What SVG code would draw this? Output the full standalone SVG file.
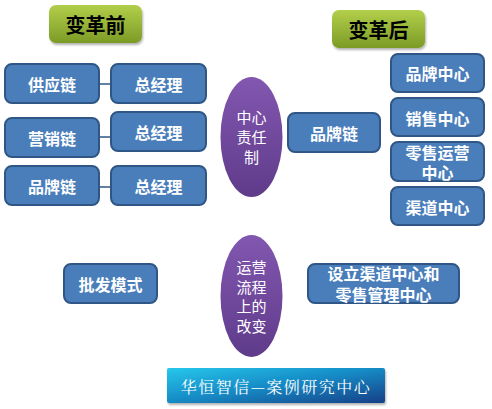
<svg xmlns="http://www.w3.org/2000/svg" width="492" height="409" viewBox="0 0 492 409">
<defs>
<linearGradient id="gGreen" x1="0" y1="0" x2="0" y2="1">
<stop offset="0" stop-color="#b2cf4a"/>
<stop offset="1" stop-color="#7c9b26"/>
</linearGradient>
<linearGradient id="gPurple" x1="0" y1="0" x2="0" y2="1">
<stop offset="0" stop-color="#8257b0"/>
<stop offset="1" stop-color="#5f3b8a"/>
</linearGradient>
<linearGradient id="gBanner" x1="0" y1="0" x2="1" y2="1">
<stop offset="0" stop-color="#27c7ec"/>
<stop offset="0.5" stop-color="#1589c4"/>
<stop offset="1" stop-color="#163f86"/>
</linearGradient>
<filter id="sh" x="-10%" y="-10%" width="130%" height="140%">
<feDropShadow dx="1" dy="2" stdDeviation="1.2" flood-color="#000" flood-opacity="0.3"/>
</filter>
</defs>
<style>
.box{fill:#4a7ebb;stroke:#2f5684;stroke-width:2;}
.t{font-family:"Microsoft YaHei","Noto Sans CJK SC",sans-serif;font-weight:bold;fill:#fff;font-size:16px;text-anchor:middle;dominant-baseline:central;}
.tk{font-family:"Noto Sans CJK SC",sans-serif;font-weight:bold;fill:#000;font-size:20px;text-anchor:middle;dominant-baseline:central;}
.te{font-family:"Noto Sans CJK SC",sans-serif;fill:#fff;font-size:15px;text-anchor:middle;dominant-baseline:central;}
.ln{stroke:#2f5684;stroke-width:1.5;fill:none;}
</style>
<rect width="492" height="409" fill="#fff"/>
<g id="connectors">
<line class="ln" x1="99" y1="84" x2="111" y2="84"/>
<line class="ln" x1="99" y1="137" x2="111" y2="137"/>
<line class="ln" x1="99" y1="187" x2="111" y2="187"/>
</g>
<g id="before"><rect x="49" y="5" width="93" height="38" rx="7" fill="url(#gGreen)" filter="url(#sh)"/><text class="tk" x="95.5" y="24">变革前</text></g>
<g id="after"><rect x="332" y="10" width="93" height="38" rx="7" fill="url(#gGreen)" filter="url(#sh)"/><text class="tk" x="378.5" y="29">变革后</text></g>
<g id="supply"><rect class="box" x="5" y="64" width="94" height="39" rx="7"/><text class="t" x="52" y="84">供应链</text></g>
<g id="gm1"><rect class="box" x="111" y="64" width="95" height="39" rx="7"/><text class="t" x="158.5" y="84">总经理</text></g>
<g id="marketing"><rect class="box" x="5" y="118" width="94" height="39" rx="7"/><text class="t" x="52" y="138">营销链</text></g>
<g id="gm2"><rect class="box" x="111" y="112" width="95" height="39" rx="7"/><text class="t" x="158.5" y="132">总经理</text></g>
<g id="brand1"><rect class="box" x="5" y="166" width="94" height="39" rx="7"/><text class="t" x="52" y="186">品牌链</text></g>
<g id="gm3"><rect class="box" x="111" y="166" width="95" height="39" rx="7"/><text class="t" x="158.5" y="186">总经理</text></g>
<g id="center1"><ellipse cx="251.5" cy="137" rx="31" ry="60" fill="url(#gPurple)"/><text class="te" x="251.5" y="116">中心</text><text class="te" x="251.5" y="136">责任</text><text class="te" x="251.5" y="156">制</text></g>
<g id="brand2"><rect class="box" x="288" y="113" width="92" height="39" rx="7"/><text class="t" x="334" y="133">品牌链</text></g>
<g id="bc"><rect class="box" x="391" y="54" width="93" height="38" rx="7"/><text class="t" x="437.5" y="73">品牌中心</text></g>
<g id="sc"><rect class="box" x="391" y="98" width="93" height="38" rx="7"/><text class="t" x="437.5" y="118">销售中心</text></g>
<g id="rc"><rect class="box" x="391" y="142" width="93" height="39" rx="7"/><text class="t" x="437.5" y="152" font-size="14">零售运营</text><text class="t" x="437.5" y="172" font-size="14">中心</text></g>
<g id="cc"><rect class="box" x="391" y="187" width="93" height="38" rx="7"/><text class="t" x="437.5" y="207">渠道中心</text></g>
<g id="wholesale"><rect class="box" x="64" y="264" width="93" height="39" rx="7"/><text class="t" x="110.5" y="284">批发模式</text></g>
<g id="center2"><ellipse cx="251.5" cy="296" rx="31" ry="61" fill="url(#gPurple)"/><text class="te" x="251.5" y="266">运营</text><text class="te" x="251.5" y="286">流程</text><text class="te" x="251.5" y="305">上的</text><text class="te" x="251.5" y="325">改变</text></g>
<g id="setup"><rect class="box" x="308" y="264" width="151" height="39" rx="7"/><text class="t" x="383.5" y="273" font-size="15">设立渠道中心和</text><text class="t" x="383.5" y="294" font-size="15">零售管理中心</text></g>
<g id="banner"><rect x="167" y="368" width="218" height="35" rx="2" fill="url(#gBanner)" filter="url(#sh)"/><text x="276" y="386" font-family="'Noto Serif CJK SC','Noto Sans CJK SC',serif" font-size="16" fill="#fff" text-anchor="middle" dominant-baseline="central" letter-spacing="1.5">华恒智信—案例研究中心</text></g>
</svg>
